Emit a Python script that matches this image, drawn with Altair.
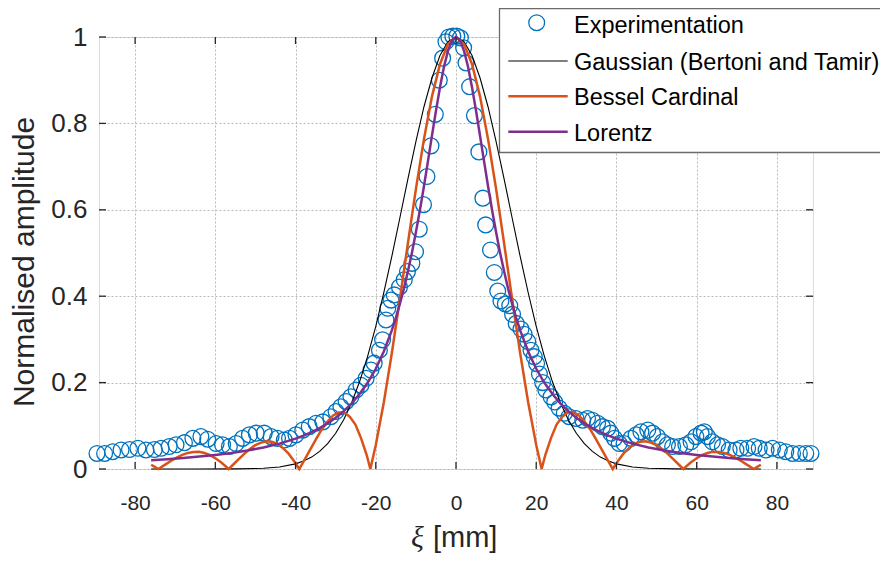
import altair as alt
import pandas as pd

# ---------------- data ----------------
xi_exp = [-89.5, -87.6, -85.6, -83.5, -81.4, -79.3, -77.3, -75.2, -73.5, -71.5, -69.8, -67.7, -65.6, -63.6, -61.9, -59.8,
          -58.2, -56.5, -54.8, -53.2, -51.5, -49.8, -47.8, -46.1, -44.5, -42.8, -41.5, -39.9, -38.2, -36.6, -34.9, -33.2,
          -31.2, -29.9, -28.7, -27.4, -26.2, -24.9, -23.7, -22.4, -21.2, -20.4, -19.1, -18.3, -17.45, -17.0, -16.2,
          -15.4, -14.1, -12.9, -12.1, -11.0, -10.1, -9.15, -8.1, -7.24, -6.24, -5.16, -4.16, -3.34, -2.5,
          -1.8, -0.8, 0.2, 1.1, 1.9, 2.5, 3.4, 4.6, 5.7, 6.7, 7.4, 8.6, 9.55, 10.4,
          11.2, 12.3, 13.4, 14.1, 15.0, 16.2, 17.0, 17.9, 18.7, 19.5, 20.1, 20.8, 21.6, 22.4, 23.7,
          24.6, 25.7, 27.0, 28.2, 29.9, 31.6, 32.8, 34.0, 35.3, 36.5, 37.8, 38.6, 39.5, 40.7, 41.9,
          43.6, 44.9, 46.1, 47.8, 49.0, 50.2, 51.5, 52.7, 54.0, 55.7, 57.3, 58.6, 59.8, 61.1, 61.9,
          62.7, 63.9, 65.2, 66.4, 68.1, 69.8, 71.0, 72.7, 74.3, 75.6, 77.3, 78.9, 80.6, 82.2, 83.9, 85.6, 87.2, 88.5]
amp_exp = [0.036, 0.036, 0.040, 0.044, 0.045, 0.048, 0.044, 0.045, 0.048, 0.052, 0.056, 0.061, 0.071, 0.075, 0.069, 0.059,
           0.056, 0.052, 0.059, 0.071, 0.079, 0.083, 0.083, 0.075, 0.071, 0.067, 0.071, 0.079, 0.090, 0.098, 0.106, 0.109,
           0.121, 0.133, 0.144, 0.156, 0.167, 0.183, 0.194, 0.210, 0.229, 0.245, 0.275, 0.299, 0.345, 0.372, 0.391,
           0.403, 0.421, 0.438, 0.457, 0.476, 0.503, 0.555, 0.612, 0.677, 0.748, 0.821, 0.900, 0.951, 0.989,
           1.000, 1.002, 1.002, 0.998, 0.975, 0.940, 0.885, 0.818, 0.734, 0.627, 0.565, 0.507, 0.455, 0.412,
           0.389, 0.382, 0.378, 0.358, 0.337, 0.324, 0.312, 0.295, 0.275, 0.260, 0.244, 0.220, 0.200, 0.183, 0.167,
           0.155, 0.141, 0.129, 0.121, 0.117, 0.113, 0.117, 0.113, 0.106, 0.098, 0.094, 0.083, 0.071, 0.059, 0.059,
           0.071, 0.079, 0.086, 0.090, 0.083, 0.075, 0.063, 0.056, 0.052, 0.052, 0.056, 0.063, 0.075, 0.083, 0.086,
           0.075, 0.063, 0.056, 0.052, 0.044, 0.044, 0.048, 0.048, 0.052, 0.048, 0.044, 0.048, 0.044, 0.040, 0.036, 0.036, 0.036, 0.036]

gauss_xi = [-76, -65, -55, -48, -44, -40, -38, -36, -34, -32, -30, -28, -26, -24, -22, -20, -18, -16, -14, -12, -10, -8, -6, -4, -2,
            0, 2, 4, 6, 8, 10, 12, 14, 16, 18, 20, 22, 24, 26, 28, 30, 32, 34, 36, 38, 40, 44, 48, 55, 65, 76]
gauss_amp = [0, 0, 0.0002, 0.0017, 0.0047, 0.0119, 0.0183, 0.0276, 0.0407, 0.0586, 0.0827, 0.114, 0.154, 0.203, 0.262, 0.330,
             0.408, 0.492, 0.581, 0.671, 0.758, 0.838, 0.905, 0.957, 0.989,
             1.0, 0.989, 0.957, 0.905, 0.838, 0.758, 0.671, 0.581, 0.492, 0.408, 0.330, 0.262, 0.203, 0.154, 0.114, 0.0827,
             0.0586, 0.0407, 0.0276, 0.0183, 0.0119, 0.0047, 0.0017, 0.0002, 0, 0]

bessel_xi = [-76, -75.21, -74.23, -72.42, -71.0, -69.64, -68.25, -66.85, -65.45, -64.07, -62.7, -61.28, -59.9, -58.5, -56.68,
             -55.71, -54.3, -52.92, -51.53, -50.14, -48.75, -47.35, -45.96, -44.57, -43.2, -41.78, -40.39, -39.08,
             -37.6, -36.21, -34.82, -33.43, -32.03, -30.64, -29.25, -27.86, -26.46, -25.07, -23.68, -22.28, -21.35,
             -20, -18, -16, -14, -12, -10, -8, -6, -4, -2,
             0, 2, 4, 6, 8, 10, 12, 14, 16, 18, 20,
             21.35, 22.28, 23.68, 25.07, 26.46, 27.86, 29.25, 30.64, 32.03, 33.43, 34.82, 36.21, 37.6,
             39.08, 40.39, 41.78, 43.2, 44.57, 45.96, 47.35, 48.75, 50.14, 51.53, 52.92, 54.3, 55.71,
             56.68, 58.5, 59.9, 61.28, 62.7, 64.07, 65.45, 66.85, 68.25, 69.64, 71.0, 72.42, 74.23, 75.21, 76]
bessel_amp = [0.0099, 0.0056, 0, 0.0108, 0.0191, 0.0265, 0.0327, 0.0372, 0.0394, 0.0397, 0.0369, 0.0321, 0.0243, 0.015, 0,
              0.0087, 0.0215, 0.034, 0.0453, 0.0545, 0.0606, 0.0643, 0.0633, 0.0587, 0.049, 0.0361, 0.0188, 0,
              0.0241, 0.0473, 0.0705, 0.0922, 0.1099, 0.1241, 0.1307, 0.1310, 0.1208, 0.1027, 0.0716, 0.033, 0,
              0.0555, 0.154, 0.268, 0.393, 0.522, 0.648, 0.763, 0.862, 0.937, 0.984,
              1.0, 0.984, 0.937, 0.862, 0.763, 0.648, 0.522, 0.393, 0.268, 0.154, 0.0555,
              0, 0.033, 0.0716, 0.1027, 0.1208, 0.1310, 0.1307, 0.1241, 0.1099, 0.0922, 0.0705, 0.0473, 0.0241,
              0, 0.0188, 0.0361, 0.049, 0.0587, 0.0633, 0.0643, 0.0606, 0.0545, 0.0453, 0.034, 0.0215, 0.0087,
              0, 0.015, 0.0243, 0.0321, 0.0369, 0.0397, 0.0394, 0.0372, 0.0327, 0.0265, 0.0191, 0.0108, 0, 0.0056, 0.0099]

lorentz_xi = [-76, -72, -68, -64, -60, -56, -52, -48, -44, -40, -38, -36, -34, -32, -30, -28, -26, -24, -22, -20, -18, -16,
              -15, -14, -13, -12, -11, -10, -9, -8, -7, -6, -5, -4, -3, -2, -1,
              0, 1, 2, 3, 4, 5, 6, 7, 8, 9, 10, 11, 12, 13, 14, 15,
              16, 18, 20, 22, 24, 26, 28, 30, 32, 34, 36, 38, 40, 44, 48, 52, 56, 60, 64, 68, 72, 76]
lorentz_amp = [0.0205, 0.0228, 0.0255, 0.0287, 0.0325, 0.0371, 0.0428, 0.0499, 0.0588, 0.0703, 0.0773, 0.0854, 0.0947,
               0.1057, 0.1185, 0.134, 0.152, 0.174, 0.200, 0.232, 0.272, 0.321,
               0.350, 0.382, 0.417, 0.457, 0.500, 0.548, 0.599, 0.654, 0.712, 0.771, 0.829, 0.883, 0.931, 0.968, 0.992,
               1.0, 0.992, 0.968, 0.931, 0.883, 0.829, 0.771, 0.712, 0.654, 0.599, 0.548, 0.500, 0.457, 0.417, 0.382, 0.350,
               0.321, 0.272, 0.232, 0.200, 0.174, 0.152, 0.134, 0.1185, 0.1057, 0.0947, 0.0854, 0.0773, 0.0703, 0.0588,
               0.0499, 0.0428, 0.0371, 0.0325, 0.0287, 0.0255, 0.0228, 0.0205]

x_ticks = [-80, -60, -40, -20, 0, 20, 40, 60, 80]
y_ticks = [0, 0.2, 0.4, 0.6, 0.8, 1]
legend_labels = ["Experimentation", "Gaussian (Bertoni and Tamir)", "Bessel Cardinal", "Lorentz"]
x_title_symbol = "ξ"
x_title_unit = "[mm]"
y_title = "Normalised amplitude"

# ---------------- styling ----------------
W, H = 714, 432
BLUE, BLACK, ORANGE, PURPLE = "#0072BD", "#000000", "#D95319", "#7E2F8E"
AX = "#262626"
FONT = "Liberation Sans"

xscale = alt.Scale(domain=[-89, 89], nice=False, zero=False)
yscale = alt.Scale(domain=[0, 1], nice=False, zero=False)
grid_kw = dict(grid=True, gridColor="#b8b8b8", gridDash=[2, 2], gridWidth=1, ticks=False, tickSize=0,
               domain=False, title=None, labelColor=AX, labelFont=FONT, labelOverlap=False)
xaxis = alt.Axis(values=x_ticks, labelFontSize=21, labelPadding=23,
                 labelExpr="datum.value < 0 ? '-' + abs(datum.value) : '' + datum.value", **grid_kw)
yaxis = alt.Axis(values=y_ticks, labelFontSize=26, labelPadding=12, format="~g", labelAlign="right", **grid_kw)


def X(field):
    return alt.X(f"{field}:Q", scale=xscale, axis=xaxis)


def Y(field):
    return alt.Y(f"{field}:Q", scale=yscale, axis=yaxis)


exp_df = pd.DataFrame({"xi": xi_exp, "amp": amp_exp})
gauss_df = pd.DataFrame({"xi": gauss_xi, "amp": gauss_amp})
bessel_df = pd.DataFrame({"xi": bessel_xi, "amp": bessel_amp})
lorentz_df = pd.DataFrame({"xi": lorentz_xi, "amp": lorentz_amp})
xt_df = pd.DataFrame({"xt": x_ticks})
yt_df = pd.DataFrame({"yt": y_ticks})
one = pd.DataFrame({"a": [0]})

points = alt.Chart(exp_df).mark_point(shape="circle", filled=False, size=250, strokeWidth=1.3,
                                      color=BLUE, opacity=1).encode(x=X("xi"), y=Y("amp"))
gauss = alt.Chart(gauss_df).mark_line(color=BLACK, strokeWidth=1.1).encode(x=X("xi"), y=Y("amp"))
bessel = alt.Chart(bessel_df).mark_line(color=ORANGE, strokeWidth=2.5).encode(x=X("xi"), y=Y("amp"))
lorentz = alt.Chart(lorentz_df).mark_line(color=PURPLE, strokeWidth=2.5).encode(x=X("xi"), y=Y("amp"))

TL = 7
tick_kw = dict(color=AX, strokeWidth=1.3)
xt_bot = alt.Chart(xt_df).mark_rule(**tick_kw).encode(x=X("xt"), y=alt.value(H), y2=alt.value(H - TL))
xt_top = alt.Chart(xt_df).mark_rule(**tick_kw).encode(x=X("xt"), y=alt.value(0), y2=alt.value(TL))
yt_left = alt.Chart(yt_df).mark_rule(**tick_kw).encode(y=Y("yt"), x=alt.value(0), x2=alt.value(TL))
yt_right = alt.Chart(yt_df).mark_rule(**tick_kw).encode(y=Y("yt"), x=alt.value(W), x2=alt.value(W - TL))

# axis titles
ytitle = alt.Chart(one).mark_text(font=FONT, fontSize=30, color=AX, angle=270, align="center",
                                  baseline="alphabetic").encode(
    x=alt.value(-65), y=alt.value(225), text=alt.value(y_title))
xtitle_sym = alt.Chart(one).mark_text(font="Liberation Serif", fontStyle="italic", fontSize=30, color=AX,
                                      align="left", baseline="alphabetic").encode(
    x=alt.value(312), y=alt.value(510), text=alt.value(x_title_symbol))
xtitle_unit = alt.Chart(one).mark_text(font=FONT, fontSize=29, color=AX, align="left",
                                       baseline="alphabetic").encode(
    x=alt.value(334), y=alt.value(510), text=alt.value(x_title_unit))

# legend box (manual, MATLAB style, top-right)
LX0, LX1, LY0, LY1 = 400.5, 800, -28.5, 115.5
box = alt.Chart(one).mark_rect(fill="white", stroke="#6b6b6b", strokeWidth=1.3).encode(
    x=alt.value(LX0), x2=alt.value(LX1), y=alt.value(LY0), y2=alt.value(LY1))
leg_layers = [box]
row_base = [-3.7, 33, 68.3, 103.7]
line_colors = [None, BLACK, ORANGE, PURPLE]
line_widths = [None, 1.1, 2.5, 2.5]
for i, lab in enumerate(legend_labels):
    leg_layers.append(alt.Chart(one).mark_text(font=FONT, fontSize=23.5, color="#000000", align="left",
                                               baseline="alphabetic").encode(
        x=alt.value(475), y=alt.value(row_base[i]), text=alt.value(lab)))
    if i == 0:
        leg_layers.append(alt.Chart(one).mark_point(shape="circle", filled=False, size=250, strokeWidth=1.3,
                                                    color=BLUE, opacity=1).encode(
            x=alt.value(437.7), y=alt.value(-14.3)))
    else:
        yy = row_base[i] - 9
        leg_layers.append(alt.Chart(one).mark_rule(color=line_colors[i], strokeWidth=line_widths[i]).encode(
            x=alt.value(409.3), x2=alt.value(468.7), y=alt.value(yy), y2=alt.value(yy)))

chart = alt.layer(points, gauss, bessel, lorentz, xt_bot, xt_top, yt_left, yt_right,
                  ytitle, xtitle_sym, xtitle_unit, *leg_layers).properties(
    width=W, height=H,
    autosize=alt.AutoSizeParams(type="none"),
    padding={"left": 91, "top": 29, "right": 67, "bottom": 85},
).configure_view(stroke=AX, strokeWidth=1.3).configure(background="white")

chart.save("out.html", embed_options={"renderer": "svg", "actions": False})
